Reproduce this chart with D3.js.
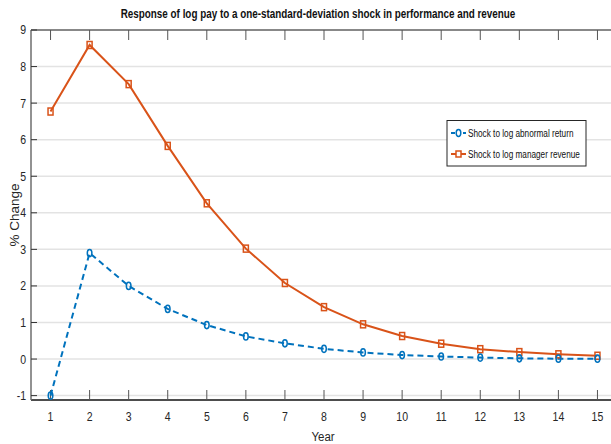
<!DOCTYPE html>
<html><head><meta charset="utf-8">
<script src="https://cdn.jsdelivr.net/npm/d3@7"></script>
<style>body{margin:0;background:#fff}svg{display:block}text{font-family:"Liberation Sans",Arial,sans-serif}</style>
</head><body><svg id="c" width="611" height="444"></svg>
<script>
const years = [1,2,3,4,5,6,7,8,9,10,11,12,13,14,15];
const abnormalReturn = [-1.0,2.9,2.0,1.37,0.93,0.62,0.43,0.28,0.18,0.11,0.07,0.04,0.02,0.01,0.01];
const managerRevenue = [6.77,8.59,7.52,5.83,4.26,3.02,2.08,1.42,0.95,0.63,0.42,0.27,0.19,0.13,0.09];
const yTicks = [-1,0,1,2,3,4,5,6,7,8,9];
const seriesNames = ["Shock to log abnormal return","Shock to log manager revenue"];
const titleText = "Response of log pay to a one-standard-deviation shock in performance and revenue";

const svg = d3.select("#c");
const L=31, T=30, B=400, R=617;
const x = d3.scaleLinear().domain([0.5,15.5]).range([L,R]);
const y = d3.scaleLinear().domain([-1.12,9]).range([B,T]);
const SX = 0.78;
function txt(g, s, px, py, opts){
  const t = g.append("text").attr("transform",`translate(${px},${py}) scale(${opts.sx||SX},1)`)
    .attr("text-anchor",opts.anchor||"middle").attr("font-size",opts.size||12)
    .attr("fill",opts.fill||"#262626").attr("font-weight",opts.weight||"normal")
    .attr("dominant-baseline","central").text(s);
  return t;
}

// grid
svg.append("g").selectAll("line").data(yTicks).join("line")
  .attr("x1",L).attr("x2",R).attr("y1",d=>y(d)).attr("y2",d=>y(d))
  .attr("stroke","#e3e3e3").attr("stroke-width",1.5);

// axes lines
svg.append("line").attr("x1",L).attr("x2",R).attr("y1",T).attr("y2",T).attr("stroke","#262626").attr("stroke-width",1.2);
svg.append("line").attr("x1",L).attr("x2",R).attr("y1",B).attr("y2",B).attr("stroke","#4d4d4d").attr("stroke-width",2);
svg.append("line").attr("x1",L).attr("x2",L).attr("y1",T).attr("y2",B).attr("stroke","#6e6e6e").attr("stroke-width",1.5);

// x ticks (inward, top and bottom)
const xt = svg.append("g");
years.forEach(v=>{
  xt.append("line").attr("x1",x(v)).attr("x2",x(v)).attr("y1",B).attr("y2",B-10).attr("stroke","#555").attr("stroke-width",1);
  xt.append("line").attr("x1",x(v)).attr("x2",x(v)).attr("y1",T).attr("y2",T+10).attr("stroke","#555").attr("stroke-width",1);
  txt(xt, String(v), x(v), 417, {size:13.5});
});
// y ticks
const yt = svg.append("g");
yTicks.forEach(v=>{
  yt.append("line").attr("x1",L).attr("x2",L+6).attr("y1",y(v)).attr("y2",y(v)).attr("stroke","#333").attr("stroke-width",1);
  txt(yt, String(v), 26, y(v), {size:13.5, anchor:"end"});
});

// title and labels
txt(svg, titleText, 318, 14, {size:12.5, weight:"bold", sx:0.79, fill:"#111"});
txt(svg, "Year", 323, 437, {size:13.5, sx:0.85});
svg.append("text").attr("transform","translate(14,215) rotate(-90)").attr("text-anchor","middle")
  .attr("dominant-baseline","central").attr("font-size",13.5).attr("fill","#262626").text("% Change");

const blue="#0072BD", orange="#D95319";
const line = d3.line().x((d,i)=>x(years[i])).y(d=>y(d));
svg.append("path").datum(managerRevenue).attr("d",line).attr("fill","none").attr("stroke",orange).attr("stroke-width",2);
svg.append("path").datum(abnormalReturn).attr("d",line).attr("fill","none").attr("stroke",blue).attr("stroke-width",2).attr("stroke-dasharray","6,4");

svg.append("g").selectAll("rect").data(managerRevenue).join("rect")
  .attr("x",(d,i)=>x(years[i])-2.5).attr("y",d=>y(d)-3.5).attr("width",5).attr("height",7)
  .attr("fill","none").attr("stroke",orange).attr("stroke-width",1.5);
svg.append("g").selectAll("ellipse").data(abnormalReturn).join("ellipse")
  .attr("cx",(d,i)=>x(years[i])).attr("cy",d=>y(d)).attr("rx",2.3).attr("ry",3.6)
  .attr("fill","none").attr("stroke",blue).attr("stroke-width",1.5);

// legend
const lg = svg.append("g");
lg.append("rect").attr("x",447).attr("y",120.5).attr("width",139).attr("height",45.5).attr("fill","#fff").attr("stroke","#262626").attr("stroke-width",1);
const rows=[{n:seriesNames[0],c:blue,m:"o",yy:133},{n:seriesNames[1],c:orange,m:"s",yy:154}];
rows.forEach(r=>{
  lg.append("line").attr("x1",451).attr("x2",466).attr("y1",r.yy).attr("y2",r.yy).attr("stroke",r.c).attr("stroke-width",2)
    .attr("stroke-dasharray", r.m==="o"?"4,2":null);
  if(r.m==="o") lg.append("ellipse").attr("cx",458.5).attr("cy",r.yy).attr("rx",2.3).attr("ry",3.4).attr("fill","#fff").attr("stroke",r.c).attr("stroke-width",1.5);
  else lg.append("rect").attr("x",456).attr("y",r.yy-3).attr("width",5).attr("height",6).attr("fill","#fff").attr("stroke",r.c).attr("stroke-width",1.5);
  txt(lg, r.n, 468, r.yy, {size:11.5, anchor:"start", sx:0.715, fill:"#111"});
});
</script></body></html>
